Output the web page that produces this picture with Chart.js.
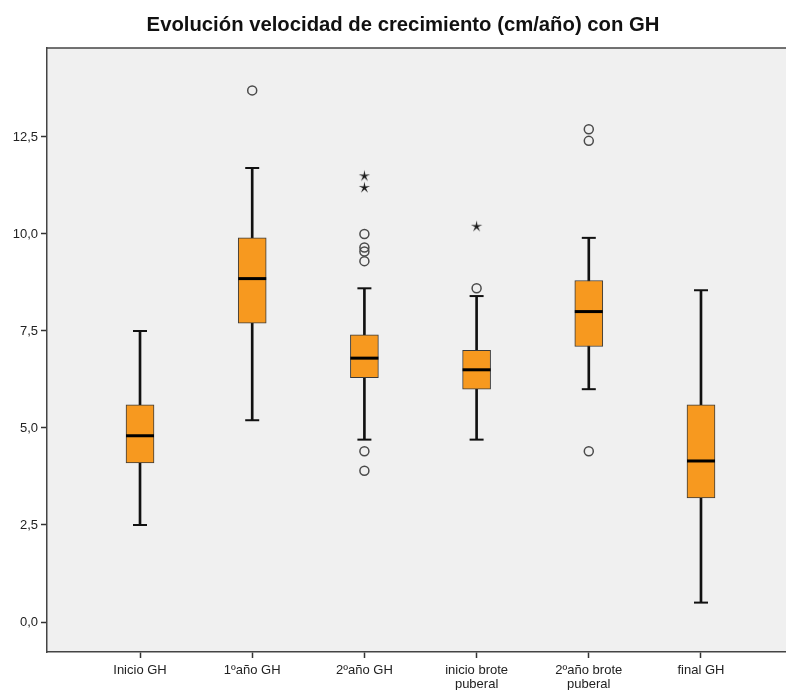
<!DOCTYPE html>
<html>
<head>
<meta charset="utf-8">
<title>Evolución velocidad de crecimiento</title>
<script src="https://cdn.jsdelivr.net/npm/chart.js@4.4.1/dist/chart.umd.min.js"></script>
<style>
  html, body { margin: 0; padding: 0; background: #ffffff; overflow: hidden; }
  #wrap { width: 806px; height: 690px; }
</style>
</head>
<body>
<div id="wrap"><canvas id="chart" width="806" height="690"></canvas></div>
<script>
// Groups along the horizontal axis
const categories = ['Inicio GH', '1ºaño GH', '2ºaño GH', ['inicio brote', 'puberal'], ['2ºaño brote', 'puberal'], 'final GH'];

// Box-plot summary per group (cm/año)
const whiskerLow  = [2.5, 5.2, 4.7, 4.7, 6.0, 0.5];
const quartile1   = [4.1, 7.7, 6.3, 6.0, 7.1, 3.2];
const medians     = [4.8, 8.85, 6.8, 6.5, 8.0, 4.15];
const quartile3   = [5.6, 9.9, 7.4, 7.0, 8.8, 5.6];
const whiskerHigh = [7.5, 11.7, 8.6, 8.4, 9.9, 8.55];

// Outliers (circles) and extreme values (stars): group index + value
const outlierGroup = [1, 2, 2, 2, 2, 2, 2, 3, 4, 4, 4];
const outlierValue = [13.7, 10.0, 9.65, 9.55, 9.3, 4.4, 3.9, 8.6, 12.7, 12.4, 4.4];
const extremeGroup = [2, 2, 3];
const extremeValue = [11.5, 11.2, 10.2];

// Vertical axis tick values
const yTicks = [0, 2.5, 5, 7.5, 10, 12.5];

const boxFill = '#F7991F';
const ink = '#111111';

// Five-pointed star marker for extreme values
function makeStar() {
  const c = document.createElement('canvas');
  c.width = 13; c.height = 13;
  const g = c.getContext('2d');
  g.translate(6.5, 6.8);
  g.beginPath();
  for (let i = 0; i < 10; i++) {
    const r = (i % 2 === 0) ? 6 : 1.6;
    const a = -Math.PI / 2 + i * Math.PI / 5;
    const px = r * Math.cos(a), py = r * Math.sin(a);
    if (i === 0) g.moveTo(px, py); else g.lineTo(px, py);
  }
  g.closePath();
  g.fillStyle = '#1a1a1a';
  g.fill();
  return c;
}
const starMarker = makeStar();

const idx = categories.map((_, i) => i);

const plotFrame = {
  id: 'plotFrame',
  beforeDraw(chart) {
    const { ctx, chartArea: a } = chart;
    ctx.save();
    ctx.fillStyle = '#f0f0f0';
    ctx.fillRect(a.left, a.top, a.right - a.left, a.bottom - a.top);
    ctx.strokeStyle = '#444444';
    ctx.lineWidth = 1.5;
    ctx.beginPath();
    ctx.moveTo(a.left, a.top);
    ctx.lineTo(a.right, a.top);
    ctx.stroke();
    ctx.restore();
  }
};

const labelFont = { family: '"Liberation Sans", Arial, sans-serif', size: 13, lineHeight: 1.1 };

new Chart(document.getElementById('chart'), {
  type: 'bar',
  data: {
    datasets: [
      {
        // whisker stems
        type: 'bar',
        data: idx.map(i => ({ x: i, y: [whiskerLow[i], whiskerHigh[i]] })),
        backgroundColor: ink,
        borderWidth: 0,
        barThickness: 2,
        grouped: false,
        order: 5
      },
      {
        // interquartile boxes
        type: 'bar',
        data: idx.map(i => ({ x: i, y: [quartile1[i], quartile3[i]] })),
        backgroundColor: boxFill,
        borderColor: '#3a3a3a',
        borderWidth: 1,
        borderSkipped: false,
        barThickness: 28,
        grouped: false,
        order: 4
      },
      {
        // whisker caps
        type: 'scatter',
        data: idx.flatMap(i => [{ x: i, y: whiskerLow[i] }, { x: i, y: whiskerHigh[i] }]),
        pointStyle: 'line',
        pointRadius: 7,
        borderColor: ink,
        borderWidth: 2,
        order: 3
      },
      {
        // medians
        type: 'scatter',
        data: idx.map(i => ({ x: i, y: medians[i] })),
        pointStyle: 'line',
        pointRadius: 14,
        borderColor: '#000000',
        borderWidth: 3,
        order: 2
      },
      {
        // outliers
        type: 'scatter',
        data: outlierGroup.map((g, k) => ({ x: g, y: outlierValue[k] })),
        pointStyle: 'circle',
        pointRadius: 4.5,
        borderColor: '#4a4a4a',
        borderWidth: 1.5,
        backgroundColor: 'rgba(0,0,0,0)',
        order: 1
      },
      {
        // extreme values
        type: 'scatter',
        data: extremeGroup.map((g, k) => ({ x: g, y: extremeValue[k] })),
        pointStyle: starMarker,
        pointRadius: 6,
        order: 1
      }
    ]
  },
  options: {
    responsive: false,
    animation: false,
    events: [],
    layout: { autoPadding: false, padding: { left: 12, right: 12, top: 0, bottom: 0 } },
    plugins: {
      legend: { display: false },
      tooltip: { enabled: false },
      title: {
        display: true,
        text: 'Evolución velocidad de crecimiento (cm/año) con GH',
        color: '#111111',
        font: { family: '"Liberation Sans", Arial, sans-serif', size: 20.3, weight: 'bold', lineHeight: 1.2 },
        padding: { top: 13, bottom: 10.6 }
      }
    },
    scales: {
      x: {
        type: 'linear',
        offset: false,
        min: -0.829,
        max: 5.829,
        afterBuildTicks(scale) { scale.ticks = idx.map(v => ({ value: v })); },
        afterFit(scale) {
          scale.height = 38;
          scale.paddingLeft = 0;
          scale.paddingRight = 0;
        },
        ticks: {
          autoSkip: false,
          maxRotation: 0,
          padding: 5,
          color: '#222222',
          font: labelFont,
          callback: (v) => categories[Math.round(v)]
        },
        grid: { display: true, offset: false, drawOnChartArea: false, drawTicks: true, tickLength: 6, tickWidth: 1.5, tickColor: '#333333' },
        border: { display: true, color: '#444444', width: 1.5 }
      },
      y: {
        type: 'linear',
        min: -0.773,
        max: 14.794,
        afterBuildTicks(scale) { scale.ticks = yTicks.map(v => ({ value: v })); },
        afterFit(scale) {
          scale.width = 35;
          scale.paddingTop = 0;
          scale.paddingBottom = 0;
        },
        ticks: {
          padding: 3,
          color: '#222222',
          font: { family: '"Liberation Sans", Arial, sans-serif', size: 13 },
          callback: (v) => v.toFixed(1).replace('.', ',')
        },
        grid: { display: true, drawOnChartArea: false, drawTicks: true, tickLength: 6, tickWidth: 1.5, tickColor: '#333333' },
        border: { display: true, color: '#444444', width: 1.5 }
      }
    }
  },
  plugins: [plotFrame]
});
</script>
</body>
</html>
